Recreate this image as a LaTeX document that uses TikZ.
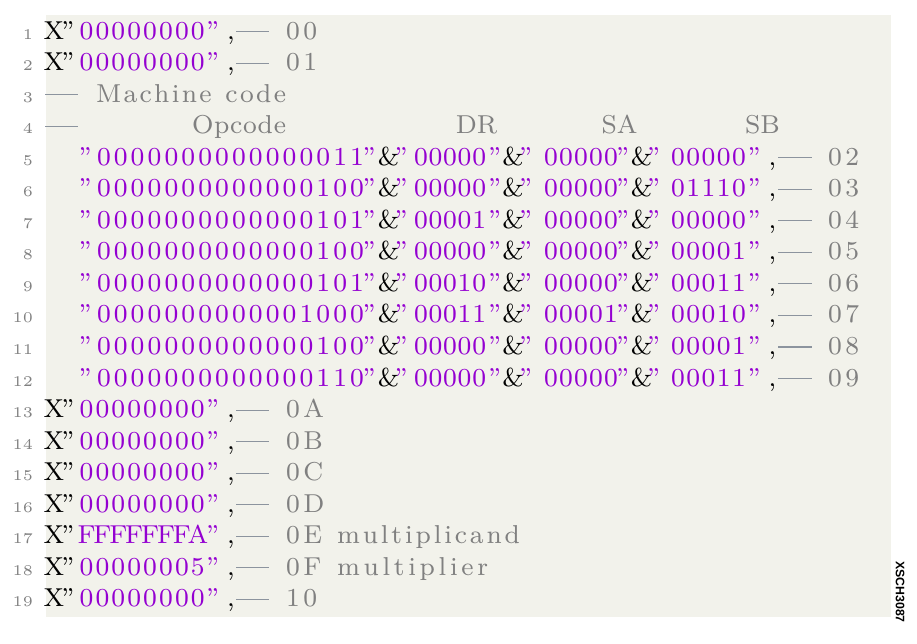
\documentclass[tikz,border=0pt]{standalone}
\usepackage{fontspec}
\newfontfamily\idfont{Liberation Sans}
\definecolor{mauve}{rgb}{0.58,0,0.82}
\definecolor{bgc}{rgb}{0.95,0.95,0.92}
\definecolor{cmtgray}{rgb}{0.5,0.5,0.5}
\definecolor{dashgray}{rgb}{0.55,0.58,0.62}
\newlength\pxu \setlength\pxu{0.3089pt}
\newlength\kk
\newlength\tmpw
\newlength\colw \setlength\colw{15.9\pxu}
\def\lspA#1{#1\lspB}
\def\lspB#1{\ifx#1\relax\else\kern\kk#1\expandafter\lspB\fi}
\newcommand\lsp[2]{\kk=#1\pxu\lspA#2\relax}
\newcommand\fitto[3]{\kk=0pt\settowidth{\tmpw}{\lspA#3\relax}\kk=\dimexpr(#1\pxu-\tmpw)/#2\relax\lspA#3\relax}
\def\fxA#1{\ifx#1\relax\else\makebox[\colw]{#1}\expandafter\fxA\fi}

\newcommand\lineA[4]{%
 \pgfmathsetmacro\yy{39.3+(#1-1)*31.52}%
 \pgfmathsetmacro\yd{\yy-7.5}%
 \node[lnum] (n#1) at (33,\yy) {#1};
 \node[blktxt,anchor=base] (x#1) at (54,\yy) {X};
 \node[blktxt,anchor=base] (qa#1) at (68,\yy) {”};
 \node[strtxt,anchor=base west] (h#1) at (78.55,\yy) {\fxA#2\relax};
 \node[strtxt,anchor=base] (qb#1) at (212.5,\yy) {”};
 \node[blktxt,anchor=base] (c#1) at (231,\yy) {,};
 \coordinate (da#1) at (236,\yd); \coordinate (db#1) at (269,\yd);
 \draw[cdash] (da#1) -- (db#1);
 \node[cmttxt,anchor=base west] (a#1) at (286,\yy) {\lsp{3.5}{#3}};
 \ifx\relax#4\relax\else\node[cmttxt,anchor=base west] (m#1) at (337,\yy) {#4};\fi
}
\newcommand\lineB[6]{%
 \pgfmathsetmacro\yy{39.3+(#1-1)*31.52}%
 \pgfmathsetmacro\yd{\yy-7.5}%
 \node[lnum] (n#1) at (33,\yy) {#1};
 \node[strtxt,anchor=base] (qa#1) at (85,\yy) {”};
 \node[strtxt,anchor=base west] (op#1) at (97,\yy) {\fitto{267}{15}{#2}};
 \node[strtxt,anchor=base] (qb#1) at (369,\yy) {”};
 \node[blktxt,anchor=base] (ea#1) at (388.5,\yy) {\&};
 \node[strtxt,anchor=base] (qc#1) at (401,\yy) {”};
 \node[strtxt,anchor=base west] (dr#1) at (414,\yy) {\fitto{72}{4}{#3}};
 \node[strtxt,anchor=base] (qd#1) at (494.5,\yy) {”};
 \node[blktxt,anchor=base] (eb#1) at (513,\yy) {\&};
 \node[strtxt,anchor=base] (qe#1) at (525.5,\yy) {”};
 \node[strtxt,anchor=base west] (sa#1) at (544,\yy) {\fitto{74}{4}{#4}};
 \node[strtxt,anchor=base] (qf#1) at (622.5,\yy) {”};
 \node[blktxt,anchor=base] (ec#1) at (641.5,\yy) {\&};
 \node[strtxt,anchor=base] (qg#1) at (653.5,\yy) {”};
 \node[strtxt,anchor=base west] (sb#1) at (671,\yy) {\fitto{75}{4}{#5}};
 \node[strtxt,anchor=base] (qh#1) at (754,\yy) {”};
 \node[blktxt,anchor=base] (c#1) at (772.5,\yy) {,};
 \coordinate (da#1) at (778,\yd); \coordinate (db#1) at (812,\yd);
 \draw[cdash] (da#1) -- (db#1);
 \node[cmttxt,anchor=base west] (a#1) at (828,\yy) {\lsp{3.5}{#6}};
}

\begin{document}
\begin{tikzpicture}[x=0.3089pt,y=-0.3089pt,
  every node/.style={inner sep=0pt,outer sep=0pt},
  maintxt/.style={font=\fontsize{8}{9.6}\selectfont},
  strtxt/.style={maintxt,text=mauve},
  blktxt/.style={maintxt,text=black},
  cmttxt/.style={maintxt,text=cmtgray},
  lnum/.style={font=\fontsize{4.6}{5.5}\selectfont,text=cmtgray,anchor=base east},
  cdash/.style={draw=dashgray,line width=0.32pt}]
\useasboundingbox (0,0) rectangle (917,643);
\fill[bgc] (46,15) rectangle (891,617);

\lineA{1}{00000000}{00}{}
\lineA{2}{00000000}{01}{}

% line 3
\pgfmathsetmacro\yy{39.3+2*31.52}\pgfmathsetmacro\yd{\yy-7.5}
\node[lnum] (n3) at (33,\yy) {3};
\coordinate (da3) at (45,\yd); \coordinate (db3) at (78,\yd);
\draw[cdash] (da3) -- (db3);
\node[cmttxt,anchor=base west] (mc3) at (96,\yy) {\fitto{190}{11}{Machine~code}};

% line 4
\pgfmathsetmacro\yy{39.3+3*31.52}\pgfmathsetmacro\yd{\yy-7.5}
\node[lnum] (n4) at (33,\yy) {4};
\coordinate (da4) at (45,\yd); \coordinate (db4) at (78,\yd);
\draw[cdash] (da4) -- (db4);
\node[cmttxt,anchor=base west] (opc4) at (192,\yy) {\fitto{94}{5}{Opcode}};
\node[cmttxt,anchor=base] (dr4) at (476.5,\yy) {DR};
\node[cmttxt,anchor=base] (sa4) at (619.5,\yy) {SA};
\node[cmttxt,anchor=base] (sb4) at (762.5,\yy) {SB};

\lineB{5}{0000000000000011}{00000}{00000}{00000}{02}
\lineB{6}{0000000000000100}{00000}{00000}{01110}{03}
\lineB{7}{0000000000000101}{00001}{00000}{00000}{04}
\lineB{8}{0000000000000100}{00000}{00000}{00001}{05}
\lineB{9}{0000000000000101}{00010}{00000}{00011}{06}
\lineB{10}{0000000000001000}{00011}{00001}{00010}{07}
\lineB{11}{0000000000000100}{00000}{00000}{00001}{08}
\lineB{12}{0000000000000110}{00000}{00000}{00011}{09}

\lineA{13}{00000000}{0A}{}
\lineA{14}{00000000}{0B}{}
\lineA{15}{00000000}{0C}{}
\lineA{16}{00000000}{0D}{}
\lineA{17}{FFFFFFFA}{0E}{\fitto{183}{11}{multiplicand}}
\lineA{18}{00000005}{0F}{\fitto{151}{9}{multiplier}}
\lineA{19}{00000000}{10}{}

\node[font={\idfont\bfseries\fontsize{3.8}{4.5}\selectfont},rotate=-90] (id) at (900,592) {XSCH3087};
\end{tikzpicture}
\end{document}
